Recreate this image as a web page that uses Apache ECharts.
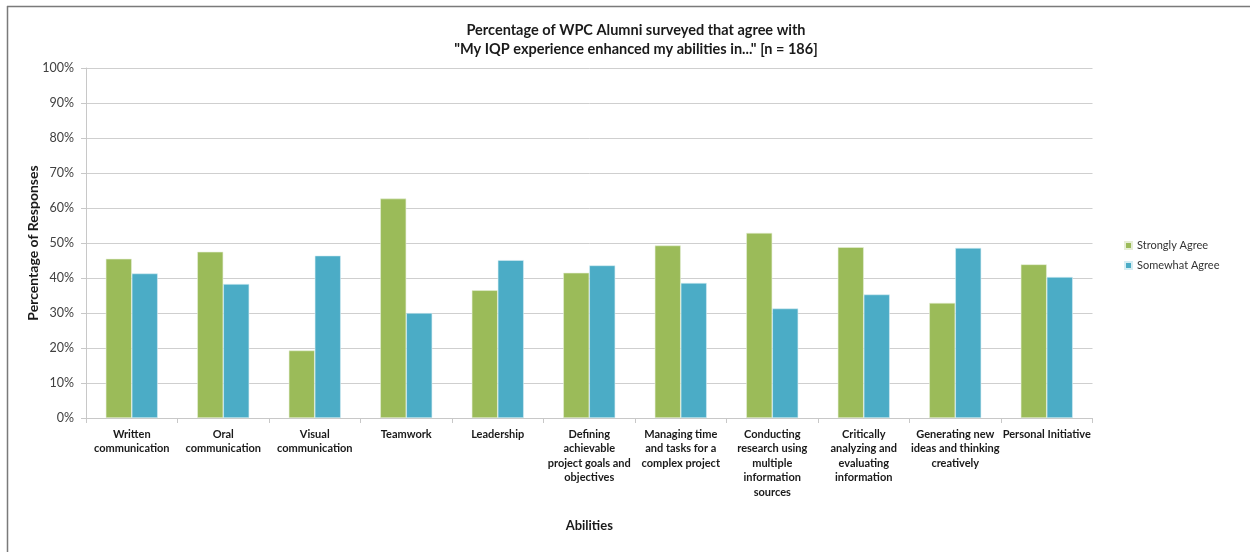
<!DOCTYPE html>
<html>
<head>
<meta charset="utf-8">
<script src="https://cdn.jsdelivr.net/npm/echarts@6/dist/echarts.min.js"></script>
<style>
  html, body { margin: 0; padding: 0; background: #fff; }
  #chart { width: 1250px; height: 552px; }
</style>
</head>
<body>
<div id="chart"></div>
<script>
// abilities, wrapped like the original axis labels
var abilities = [
  "Written\ncommunication",
  "Oral\ncommunication",
  "Visual\ncommunication",
  "Teamwork",
  "Leadership",
  "Defining\nachievable\nproject goals and\nobjectives",
  "Managing time\nand tasks for a\ncomplex project",
  "Conducting\nresearch using\nmultiple\ninformation\nsources",
  "Critically\nanalyzing and\nevaluating\ninformation",
  "Generating new\nideas and thinking\ncreatively",
  "Personal Initiative"
];
var stronglyAgree = [45.5, 47.5, 19.3, 62.7, 36.5, 41.5, 49.3, 52.9, 48.8, 32.9, 43.9];
var somewhatAgree = [41.3, 38.3, 46.4, 30.0, 45.1, 43.6, 38.6, 31.3, 35.3, 48.6, 40.3];

var chart = echarts.init(document.getElementById("chart"));
var font = "Lato, 'Open Sans', sans-serif";

var option = {
  animation: false,
  textStyle: { fontFamily: font },
  title: {
    text: "Percentage of WPC Alumni surveyed that agree with\n\"My IQP experience enhanced my abilities in...\" [n = 186]",
    left: 631,
    top: 16,
    textAlign: "center",
    textStyle: { fontFamily: font, fontSize: 14.5, fontWeight: "bold", color: "#1a1a1a", lineHeight: 19 }
  },
  legend: {
    orient: "vertical",
    left: 1119,
    top: 235,
    itemWidth: 7,
    itemHeight: 7,
    itemGap: 9,
    icon: "rect",
    textStyle: { fontFamily: font, fontSize: 11, color: "#333" },
    data: ["Strongly Agree", "Somewhat Agree"]
  },
  grid: { left: 86, right: 157.5, top: 68, bottom: 134, containLabel: false },
  xAxis: {
    type: "category",
    data: abilities,
    name: "Abilities",
    nameLocation: "middle",
    nameGap: 101,
    nameMoveOverlap: false,
    nameTextStyle: { fontFamily: font, fontSize: 13, fontWeight: "bold", color: "#1a1a1a" },
    axisLine: { lineStyle: { color: "#c8c8c8" } },
    axisTick: { show: true, length: 5, lineStyle: { color: "#c8c8c8" } },
    axisLabel: {
      interval: 0,
      margin: 9,
      fontFamily: font,
      fontSize: 11,
      fontWeight: "bold",
      color: "#1a1a1a",
      lineHeight: 14.5
    }
  },
  yAxis: {
    type: "value",
    min: 0,
    max: 100,
    interval: 10,
    name: "Percentage of Responses",
    nameLocation: "middle",
    nameGap: 46,
    nameMoveOverlap: false,
    nameTextStyle: { fontFamily: font, fontSize: 14, fontWeight: "bold", color: "#1a1a1a" },
    axisLine: { show: true, lineStyle: { color: "#c8c8c8" } },
    axisTick: { show: true, length: 5, inside: false, lineStyle: { color: "#c8c8c8" } },
    axisLabel: { formatter: "{value}%", margin: 12, fontFamily: font, fontSize: 12.5, color: "#404040" },
    splitLine: { lineStyle: { color: "#cfcfcf", width: 1 } }
  },
  series: [
    {
      name: "Strongly Agree",
      type: "bar",
      data: stronglyAgree,
      barWidth: 26,
      barGap: "0%",
      itemStyle: { color: "#9BBB59", borderColor: "#e6eed6", borderWidth: 0.6 }
    },
    {
      name: "Somewhat Agree",
      type: "bar",
      data: somewhatAgree,
      barWidth: 26,
      barGap: "0%",
      itemStyle: { color: "#4BACC6", borderColor: "#d6eef4", borderWidth: 0.6 }
    }
  ],
  graphic: [
    { type: "line", shape: { x1: 7, y1: 6.5, x2: 1250, y2: 6.5 }, style: { stroke: "#7a7a7a", lineWidth: 1.5 } },
    { type: "line", shape: { x1: 7.5, y1: 6, x2: 7.5, y2: 552 }, style: { stroke: "#7a7a7a", lineWidth: 1.5 } }
  ]
};

chart.setOption(option);
</script>
</body>
</html>
